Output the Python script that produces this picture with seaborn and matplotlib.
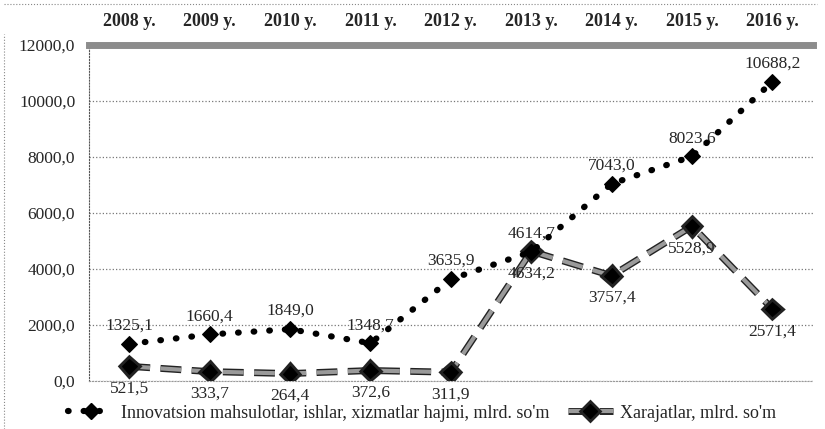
import numpy as np
import pandas as pd
import matplotlib
matplotlib.use('Agg')
import matplotlib.pyplot as plt
import matplotlib.patheffects as pe
from matplotlib.ticker import FuncFormatter
from matplotlib.lines import Line2D
import seaborn as sns

# --- data ---
years = ['2008 y.', '2009 y.', '2010 y.', '2011 y.', '2012 y.',
         '2013 y.', '2014 y.', '2015 y.', '2016 y.']
innovatsion = [1325.1, 1660.4, 1849.0, 1348.7, 3635.9, 4614.7, 7043.0, 8023.6, 10688.2]
xarajatlar = [521.5, 333.7, 264.4, 372.6, 311.9, 4634.2, 3757.4, 5528.9, 2571.4]
yticks = [0, 2000, 4000, 6000, 8000, 10000, 12000]
label_innov = "Innovatsion mahsulotlar, ishlar, xizmatlar hajmi, mlrd. so'm"
label_xar = "Xarajatlar, mlrd. so'm"

sns.set_style('white')
plt.rcParams['font.family'] = ['Liberation Serif', 'DejaVu Serif']

fig = plt.figure(figsize=(8.25, 4.29), dpi=100)
ax = fig.add_axes([0.108, 0.112, 0.877, 0.783])

def comma(v, pos=None):
    return f"{v:.1f}".replace('.', ',')

dotted = (0, (0.1, 2.4))
dashed = (0, (5, 2.5))
xar_effects = [pe.Stroke(linewidth=5, foreground='#222222'), pe.Normal()]

# Innovatsion: round-dotted black line with diamonds
sns.lineplot(x=years, y=innovatsion, ax=ax, color='black', lw=4.5,
             linestyle=dotted, dash_capstyle='round',
             marker='D', markersize=8.5, markeredgecolor='black', zorder=4)

# Xarajatlar: thick gray dashed line with black outline and diamonds
sns.lineplot(x=years, y=xarajatlar, ax=ax, color='#9a9a9a', lw=3,
             linestyle=dashed, marker='D', markersize=7.5,
             markerfacecolor='black', markeredgecolor='black', zorder=3,
             path_effects=xar_effects)

for i, v in enumerate(innovatsion):
    ax.annotate(comma(v), (i, v), xytext=(0, 13), textcoords='offset points',
                ha='center', va='center', fontsize=12.5)
for i, v in enumerate(xarajatlar):
    ax.annotate(comma(v), (i, v), xytext=(0, -16), textcoords='offset points',
                ha='center', va='center', fontsize=12.5)

ax.set_xlim(-0.5, len(years) - 0.5)
ax.set_ylim(0, 12000)
ax.set_yticks(yticks)
ax.yaxis.set_major_formatter(FuncFormatter(comma))
ax.xaxis.tick_top()
ax.tick_params(axis='x', length=0, pad=11, labelsize=13)
ax.tick_params(axis='y', length=0, pad=10, labelsize=12.5)
for t in ax.get_xticklabels():
    t.set_fontweight('bold')
ax.set_xlabel('')
ax.set_ylabel('')

ax.yaxis.grid(True, linestyle=':', color='#777777', lw=0.9)
ax.set_axisbelow(True)
ax.spines['right'].set_visible(False)
ax.spines['top'].set_color('#8c8c8c')
ax.spines['top'].set_linewidth(5)
ax.spines['left'].set_linestyle(':')
ax.spines['left'].set_color('#555555')
ax.spines['bottom'].set_linestyle(':')
ax.spines['bottom'].set_color('#999999')

h_innov = Line2D([], [], color='black', lw=4.5, linestyle=dotted,
                 dash_capstyle='round', marker='D', markersize=8)
h_xar = Line2D([], [], color='#9a9a9a', lw=3, linestyle=dashed,
               marker='D', markersize=7, markerfacecolor='black',
               markeredgecolor='black', path_effects=xar_effects)
fig.legend([h_innov], [label_innov], loc='center left',
           bbox_to_anchor=(0.083, 0.037), frameon=False, fontsize=13,
           handlelength=2.5, handletextpad=0.4, borderpad=0, borderaxespad=0)
fig.legend([h_xar], [label_xar], loc='center left',
           bbox_to_anchor=(0.688, 0.037), frameon=False, fontsize=13,
           handlelength=2.5, handletextpad=0.4, borderpad=0, borderaxespad=0)

# dotted frame remnants of the scanned page
fig.add_artist(Line2D([0.005, 0.005], [0.0, 0.92], transform=fig.transFigure,
                      color='#888888', lw=0.8, linestyle=':'))
fig.add_artist(Line2D([0.005, 0.99], [0.99, 0.99], transform=fig.transFigure,
                      color='#888888', lw=0.8, linestyle=':'))

fig.savefig('out.png', dpi=100)
